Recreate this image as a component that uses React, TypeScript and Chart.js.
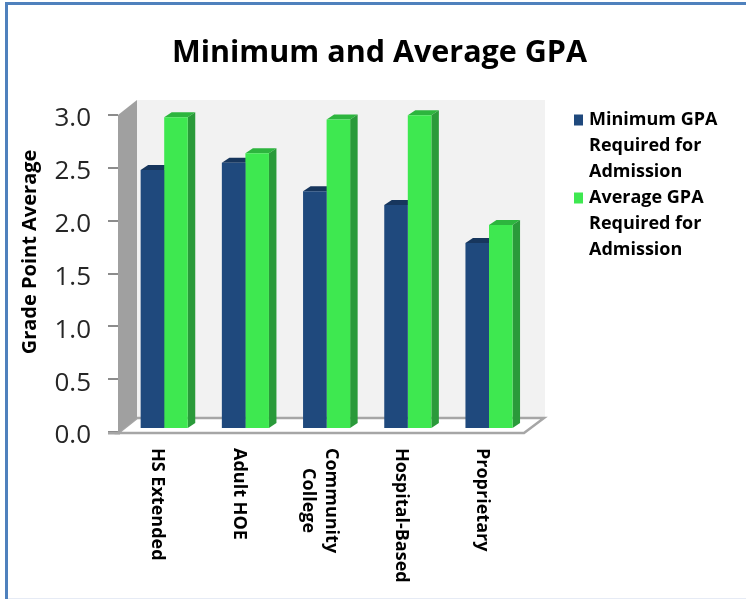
import React, { useEffect, useRef } from "react";
import { Chart, registerables } from "chart.js";

Chart.register(...registerables);

const categories: (string | string[])[] = ["HS Extended", "Adult HOE", ["Community", "College"], "Hospital-Based", "Proprietary"];
const minimumGpa = [2.45, 2.52, 2.25, 2.12, 1.76];
const averageGpa = [2.95, 2.61, 2.93, 2.97, 1.93];
const seriesNames = ["Minimum GPA Required for Admission", "Average GPA Required for Admission"];
const legendLines = [
  ["Minimum GPA", "Required for", "Admission"],
  ["Average GPA", "Required for", "Admission"],
];
const yTicks = [0, 0.5, 1, 1.5, 2, 2.5, 3];
const yAxisTitle = "Grade Point Average";

const FONT = "'Open Sans', Lato, sans-serif";
const WALL_DX = 19;
const WALL_DY = 14;
const BAR_SHIFT_X = 5.6;
const BAR_SHIFT_Y = -3;
const BAR_DX = 7.5;
const BAR_DY = 5;
const faceColors = [
  { front: "#1f497d", top: "#17365d", side: "#17365d" },
  { front: "#3ee850", top: "#2db53e", side: "#2a9a3a" },
];

function poly(ctx: CanvasRenderingContext2D, pts: number[][], fill: string | null, stroke?: string, lw = 1) {
  ctx.beginPath();
  pts.forEach((p, i) => (i ? ctx.lineTo(p[0], p[1]) : ctx.moveTo(p[0], p[1])));
  ctx.closePath();
  if (fill) {
    ctx.fillStyle = fill;
    ctx.fill();
  }
  if (stroke) {
    ctx.strokeStyle = stroke;
    ctx.lineWidth = lw;
    ctx.stroke();
  }
}

const scenePlugin = {
  id: "scene3d",
  afterLayout(chart: any) {
    const lg = chart.legend;
    const w = lg.right - lg.left;
    const h = lg.bottom - lg.top;
    lg.left = 574;
    lg.right = 574 + w;
    lg.top = 111;
    lg.bottom = 111 + h;
    chart.titleBlock.left = 0;
    chart.titleBlock.right = 759;
    chart.scales.y.getLabelItems().forEach((item: any) => {
      item.options.translation[1] += 4;
    });
  },
  beforeDraw(chart: any) {
    const ctx = chart.ctx;
    ctx.save();
    ctx.fillStyle = "#ffffff";
    ctx.fillRect(0, 0, chart.width, chart.height);
    ctx.fillStyle = "#4f81bd";
    ctx.fillRect(5, 2, chart.width - 5, 3);
    ctx.fillRect(5, 2, 3, chart.height - 2);
    ctx.fillStyle = "#e6ebf5";
    ctx.fillRect(8, 598, chart.width - 8, 1);
    ctx.restore();
  },
  beforeDatasetsDraw(chart: any) {
    const ctx = chart.ctx;
    const { left, right, top, bottom } = chart.chartArea;
    ctx.save();
    // back wall
    ctx.fillStyle = "#f2f2f2";
    ctx.fillRect(left + WALL_DX, top - WALL_DY - 1, right - left + 2, bottom - top + 2);
    // floor
    poly(ctx, [[left, bottom + 1], [left + WALL_DX, bottom - WALL_DY], [right + WALL_DX + 1, bottom - WALL_DY], [right, bottom + 1]], "#ffffff", "#a6a6a6", 2.5);
    // side wall
    poly(ctx, [[left, top], [left + WALL_DX, top - WALL_DY - 1], [left + WALL_DX, bottom - WALL_DY], [left, bottom + 1]], "#a0a0a0");
    // tick stub of the zero line
    ctx.fillStyle = "#a6a6a6";
    ctx.fillRect(108, bottom, left - 108 + 2, 2.5);
    // bar depth faces
    ctx.translate(BAR_SHIFT_X, BAR_SHIFT_Y);
    chart.data.datasets.forEach((_: any, di: number) => {
      const c = faceColors[di];
      chart.getDatasetMeta(di).data.forEach((b: any) => {
        const l = b.x - b.width / 2;
        const r = b.x + b.width / 2;
        poly(ctx, [[l, b.y], [l + BAR_DX, b.y - BAR_DY], [r + BAR_DX, b.y - BAR_DY], [r, b.y]], c.top);
        poly(ctx, [[r, b.y], [r + BAR_DX, b.y - BAR_DY], [r + BAR_DX, b.base - BAR_DY], [r, b.base]], c.side);
      });
    });
  },
  afterDatasetsDraw(chart: any) {
    const ctx = chart.ctx;
    ctx.restore();
    const xs = chart.scales.x;
    ctx.save();
    ctx.fillStyle = "#000000";
    // rotated category labels, reading downwards, with wrapped lines centred on each other
    ctx.font = `bold 18px ${FONT}`;
    ctx.textAlign = "left";
    ctx.textBaseline = "middle";
    chart.data.labels.forEach((lab: string | string[], i: number) => {
      const lines = Array.isArray(lab) ? lab : [lab];
      const cx = xs.getPixelForTick(i);
      const widest = Math.max(...lines.map((t) => ctx.measureText(t).width));
      lines.forEach((t, j) => {
        ctx.save();
        ctx.translate(cx - 1 + ((lines.length - 1) / 2 - j) * 23, 448 + (widest - ctx.measureText(t).width) / 2);
        ctx.rotate(Math.PI / 2);
        ctx.fillText(t, 0, 0);
        ctx.restore();
      });
    });
    // value axis title
    ctx.font = `bold 20px ${FONT}`;
    ctx.textAlign = "center";
    ctx.translate(30, 252);
    ctx.rotate(-Math.PI / 2);
    ctx.fillText(yAxisTitle, 0, 0);
    ctx.restore();
  },
};

export default function App() {
  const ref = useRef<HTMLCanvasElement>(null);
  useEffect(() => {
    const chart = new Chart(ref.current as HTMLCanvasElement, {
      type: "bar",
      plugins: [scenePlugin],
      data: {
        labels: categories as any,
        datasets: [
          { label: seriesNames[0], data: minimumGpa, backgroundColor: faceColors[0].front, clip: false as any },
          { label: seriesNames[1], data: averageGpa, backgroundColor: faceColors[1].front, clip: false as any },
        ],
      },
      options: {
        responsive: false,
        animation: false,
        layout: { padding: { left: 0, right: 222, top: 0, bottom: 0 } },
        datasets: { bar: { categoryPercentage: 0.58, barPercentage: 1 } },
        plugins: {
          title: {
            display: true,
            text: "Minimum and Average GPA",
            color: "#000000",
            font: { family: FONT, size: 30.5, weight: "bold", lineHeight: 36 / 30.5 },
            padding: { top: 35, bottom: 44 },
          },
          legend: {
            position: "chartArea" as any,
            align: "start",
            labels: {
              boxWidth: 6,
              boxHeight: 5,
              padding: 0,
              color: "#262626",
              font: { family: FONT, size: 18, weight: "bold", lineHeight: 26 / 18 },
              generateLabels: (c: any) =>
                c.data.datasets.map((d: any, i: number) => ({
                  text: legendLines[i],
                  fillStyle: d.backgroundColor,
                  strokeStyle: d.backgroundColor,
                  lineWidth: 6,
                  datasetIndex: i,
                })),
            },
          },
          tooltip: { enabled: false },
        },
        scales: {
          x: {
            grid: { display: false },
            border: { display: false },
            ticks: { display: false },
            afterFit: (s: any) => {
              s.height = 167;
            },
          },
          y: {
            min: 0,
            max: 3,
            afterBuildTicks: (s: any) => {
              s.ticks = yTicks.map((v) => ({ value: v }));
            },
            border: { display: false },
            grid: { drawOnChartArea: false, drawTicks: true, tickLength: 10, color: "#8c8c8c", lineWidth: 2 },
            ticks: {
              color: "#262626",
              padding: 17,
              font: { family: FONT, size: 26 },
              callback: (v: any) => Number(v).toFixed(1),
            },
            afterFit: (s: any) => {
              s.width = 118;
            },
          },
        },
      },
    } as any);
    return () => chart.destroy();
  }, []);
  return (
    <div style={{ position: "fixed", left: 0, top: 0, width: 746, height: 599 }}>
      <canvas ref={ref} width={746} height={599} style={{ display: "block" }} />
    </div>
  );
}
